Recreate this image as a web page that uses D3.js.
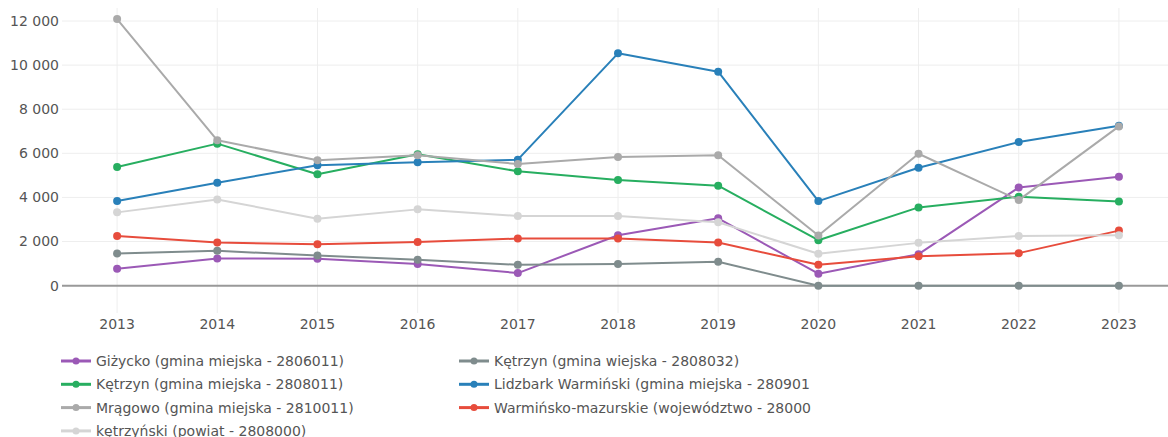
<!DOCTYPE html>
<html>
<head>
<meta charset="utf-8">
<script src="https://cdn.jsdelivr.net/npm/d3@7"></script>
<style>
  body { margin: 0; background: #fff; }
  svg text { font-family: "DejaVu Sans", Verdana, sans-serif; }
</style>
</head>
<body>
<div id="chart"></div>
<script>
const years = [2013, 2014, 2015, 2016, 2017, 2018, 2019, 2020, 2021, 2022, 2023];

const gizycko = [767, 1233, 1220, 977, 571, 2285, 3053, 541, 1429, 4451, 4940];
const ketrzynWiejska = [1459, 1579, 1368, 1173, 947, 977, 1083, 0, 0, 0, 0];
const ketrzynMiejska = [5380, 6440, 5050, 5956, 5186, 4791, 4533, 2060, 3549, 4030, 3820];
const lidzbark = [3840, 4670, 5460, 5594, 5712, 10535, 9700, 3835, 5347, 6511, 7251];
const mragowo = [12090, 6590, 5685, 5910, 5517, 5834, 5910, 2270, 5982, 3880, 7220];
const wojewodztwo = [2256, 1955, 1880, 1985, 2135, 2135, 1955, 947, 1338, 1474, 2496];
const powiat = [3323, 3910, 3038, 3459, 3158, 3158, 2872, 1444, 1940, 2256, 2286];

const seriesNames = [
    "Giżycko (gmina miejska - 2806011)",
    "Kętrzyn (gmina wiejska - 2808032)",
    "Kętrzyn (gmina miejska - 2808011)",
    "Lidzbark Warmiński (gmina miejska - 280901",
    "Mrągowo (gmina miejska - 2810011)",
    "Warmińsko-mazurskie (województwo - 28000",
    "kętrzyński (powiat - 2808000)"
];
const seriesValues = [gizycko, ketrzynWiejska, ketrzynMiejska, lidzbark, mragowo, wojewodztwo, powiat];
const seriesColors = ["#9b59b6", "#7f8c8d", "#27ae60", "#2980b9", "#aaaaaa", "#e74c3c", "#d5d5d5"];

const yTicks = [0, 2000, 4000, 6000, 8000, 10000, 12000];

const w = 1168;
const h = 437;
const plot = { left: 62, right: 1169, top: 8, bottom: 313 };

const series = seriesNames.map((name, i) => ({
    name: name,
    color: seriesColors[i],
    points: years.map((yr, j) => ({ year: yr, value: seriesValues[i][j] }))
}));

const svg = d3.select("#chart")
    .append("svg")
    .attr("width", w)
    .attr("height", h);

const x = d3.scaleLinear()
    .domain([2012.45, 2023.5])
    .range([plot.left, plot.right]);

const y = d3.scaleLinear()
    .domain([-1240, 12590])
    .range([plot.bottom, plot.top]);

const fmt = v => d3.format(",")(v).replace(/,/g, " ");

// grid
svg.append("g")
    .selectAll("line")
    .data(years)
    .enter()
    .append("line")
    .attr("x1", d => x(d))
    .attr("x2", d => x(d))
    .attr("y1", plot.top)
    .attr("y2", plot.bottom)
    .attr("stroke", "#eeeeee")
    .attr("stroke-width", 1);

svg.append("g")
    .selectAll("line")
    .data(yTicks.filter(d => d !== 0))
    .enter()
    .append("line")
    .attr("x1", plot.left)
    .attr("x2", w)
    .attr("y1", d => y(d))
    .attr("y2", d => y(d))
    .attr("stroke", "#eeeeee")
    .attr("stroke-width", 1);

// zero line
svg.append("line")
    .attr("x1", plot.left)
    .attr("x2", w)
    .attr("y1", y(0))
    .attr("y2", y(0))
    .attr("stroke", "#999999")
    .attr("stroke-width", 2);

// axis labels
svg.append("g")
    .selectAll("text")
    .data(yTicks)
    .enter()
    .append("text")
    .attr("x", plot.left - 3)
    .attr("y", d => y(d))
    .attr("dy", "0.35em")
    .attr("text-anchor", "end")
    .style("font-size", "14px")
    .style("fill", "#555")
    .text(d => fmt(d));

svg.append("g")
    .selectAll("text")
    .data(years)
    .enter()
    .append("text")
    .attr("x", d => x(d))
    .attr("y", 324)
    .attr("dy", "0.35em")
    .attr("text-anchor", "middle")
    .style("font-size", "14px")
    .style("fill", "#555")
    .text(d => d);

// lines + markers
const line = d3.line()
    .x(d => x(d.year))
    .y(d => y(d.value));

const trace = svg.append("g")
    .selectAll("g")
    .data(series)
    .enter()
    .append("g");

trace.append("path")
    .attr("d", d => line(d.points))
    .attr("fill", "none")
    .attr("stroke", d => d.color)
    .attr("stroke-width", 2)
    .attr("stroke-linejoin", "round");

trace.selectAll("circle")
    .data(d => d.points.map(p => ({ ...p, color: d.color })))
    .enter()
    .append("circle")
    .attr("cx", d => x(d.year))
    .attr("cy", d => y(d.value))
    .attr("r", 4)
    .attr("fill", d => d.color);

// legend, two columns filled row by row
const legendCols = [56, 454];
const legendTop = 361;
const legendRow = 23.3;

const legendItem = svg.append("g")
    .selectAll("g")
    .data(series)
    .enter()
    .append("g")
    .attr("transform", (d, i) => `translate(${legendCols[i % 2]}, ${legendTop + Math.floor(i / 2) * legendRow})`);

legendItem.append("line")
    .attr("x1", 5)
    .attr("x2", 35)
    .attr("stroke", d => d.color)
    .attr("stroke-width", 3);

legendItem.append("circle")
    .attr("cx", 20)
    .attr("r", 3.5)
    .attr("fill", d => d.color);

legendItem.append("text")
    .attr("x", 40)
    .attr("dy", "0.35em")
    .style("font-size", "14px")
    .style("fill", "#555")
    .text(d => d.name);
</script>
</body>
</html>
